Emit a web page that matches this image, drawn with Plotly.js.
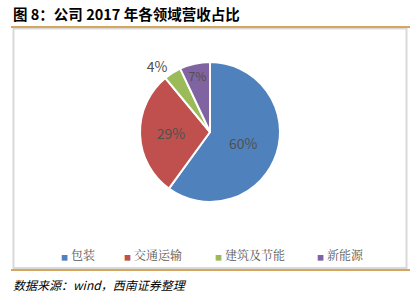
<!DOCTYPE html>
<html>
<head>
<meta charset="utf-8">
<script src="https://cdn.plot.ly/plotly-3.0.1.min.js"></script>
<style>html,body{margin:0;padding:0;background:#fff;}#chart{width:418px;height:296px;}</style>
</head>
<body>
<div id="chart"></div>
<script>
const categories = ["包装", "交通运输", "建筑及节能", "新能源"];
const shares = [60, 29, 4, 7];
const colors = ["#4F81BD", "#C0504D", "#9BBB59", "#8064A2"];
const textPositions = ["inside", "inside", "outside", "inside"];

const W = 418, H = 296;
const px = x => x / W;
const py = y => 1 - y / H;

const pie = {
  type: "pie",
  labels: categories,
  values: shares,
  sort: false,
  direction: "clockwise",
  rotation: 0,
  marker: {colors: colors, line: {color: "#ffffff", width: 2}},
  texttemplate: "%{value}%",
  textinfo: "text",
  textposition: textPositions,
  insidetextorientation: "horizontal",
  textfont: {family: "Noto Sans CJK SC, sans-serif", size: 14, color: "#505050"},
  outsidetextfont: {family: "Noto Sans CJK SC, sans-serif", size: 14, color: "#505050"},
  domain: {x: [px(140), px(280)], y: [py(203), py(61)]},
  showlegend: false,
  hoverinfo: "none"
};

const legendX = [61, 124, 215, 317];
const legendAnnotations = categories.map((c, i) => ({
  text: "<span style='color:" + colors[i] + ";font-size:7px'>■</span> " + c,
  xref: "paper", yref: "paper", x: px(legendX[i] - 2), y: py(254),
  xanchor: "left", yanchor: "middle", showarrow: false,
  font: {family: "Noto Serif CJK SC, Noto Sans CJK SC, serif", size: 12, color: "#595959"}
}));

const layout = {
  width: W, height: H,
  margin: {l: 0, r: 0, t: 0, b: 0},
  paper_bgcolor: "#ffffff", plot_bgcolor: "#ffffff",
  xaxis: {visible: false, range: [0, 1]},
  yaxis: {visible: false, range: [0, 1]},
  showlegend: false,
  shapes: [
    {type: "rect", xref: "paper", yref: "paper", x0: px(13.5), x1: px(406.5), y0: py(268), y1: py(28.5),
     line: {color: "#D9D9D9", width: 2}, fillcolor: "rgba(0,0,0,0)"},
    {type: "line", xref: "paper", yref: "paper", x0: px(11), x1: px(410), y0: py(27), y1: py(27),
     line: {color: "#D4A660", width: 2}},
    {type: "line", xref: "paper", yref: "paper", x0: px(11), x1: px(410), y0: py(270), y1: py(270),
     line: {color: "#D4A660", width: 2}}
  ],
  annotations: [
    {text: "<b>图 8：公司 2017 年各领域营收占比</b>", xref: "paper", yref: "paper",
     x: px(11), y: py(14), xanchor: "left", yanchor: "middle", showarrow: false,
     font: {family: "Noto Sans CJK SC, sans-serif", size: 14.5, color: "#000000"}},
    {text: "<i>数据来源：wind，西南证券整理</i>", xref: "paper", yref: "paper",
     x: px(11), y: py(284), xanchor: "left", yanchor: "middle", showarrow: false,
     font: {family: "Noto Sans CJK SC, sans-serif", size: 12, color: "#000000"}},
    ...legendAnnotations
  ]
};

Plotly.newPlot("chart", [pie], layout, {staticPlot: true, displayModeBar: false});
</script>
</body>
</html>
